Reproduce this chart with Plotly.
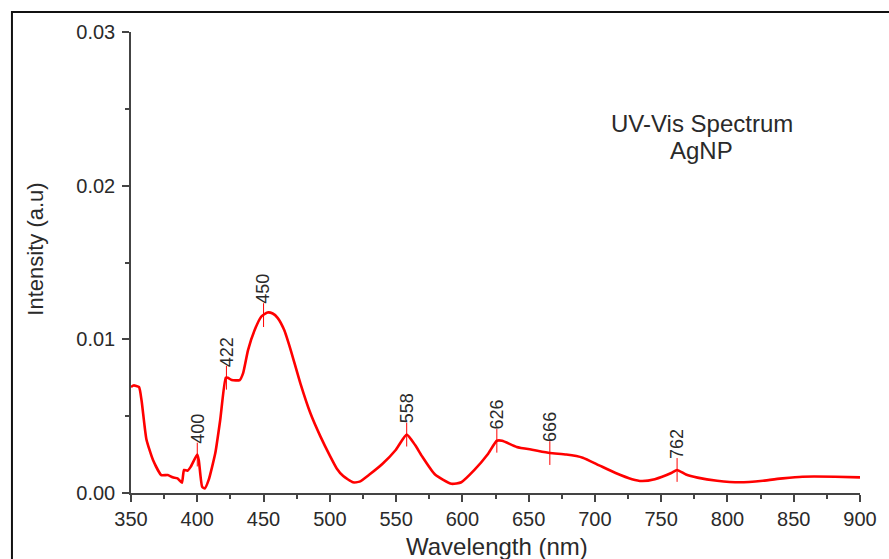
import numpy as np
import plotly.graph_objects as go

wavelength = [350, 352, 356, 358, 361.6, 366.6, 372.8, 377.7, 381.4, 385.1, 388.4, 390, 392.6, 395,
              400, 401.2, 403.7, 405.7, 408.6, 413.6, 417.3, 421.5, 423, 426, 432, 434.6, 438.3,
              443.3, 448.2, 453, 456.9, 460.6, 465.6, 470.5, 477.9, 485.3, 492.8, 500.2, 505.2,
              510.1, 517.5, 522.5, 529.9, 539.8, 549.7, 558, 564.5, 569.5, 579.4, 591.8, 599.2,
              609.1, 619, 626, 630, 641, 653.6, 666, 678.4, 690.8, 703.2, 715.6, 728, 735.3,
              745.2, 757.6, 762, 768.7, 777.4, 792.2, 809.5, 826.8, 841.7, 856.5, 881.3, 900]
intensity = [0.0069, 0.0070, 0.0069, 0.0060, 0.0035, 0.00215, 0.00117, 0.00117, 0.00102, 0.00095,
             0.00067, 0.0015, 0.00145, 0.0017, 0.0025, 0.0021, 0.0004, 0.0003, 0.00085, 0.0026,
             0.00475, 0.0075, 0.0075, 0.00735, 0.00735, 0.0078, 0.0093, 0.0106, 0.01147, 0.01175,
             0.01168, 0.0114, 0.0106, 0.0093, 0.0071, 0.0052, 0.0037, 0.0024, 0.0016, 0.0011,
             0.0007, 0.00074, 0.0012, 0.0019, 0.0028, 0.0038, 0.0031, 0.0024, 0.0012, 0.0006,
             0.0007, 0.0015, 0.0025, 0.0034, 0.0034, 0.0030, 0.0028, 0.0026, 0.0025, 0.0023,
             0.0018, 0.0013, 0.0009, 0.00078, 0.0009, 0.0013, 0.0015, 0.0012, 0.0010, 0.0008,
             0.0007, 0.0008, 0.00095, 0.00106, 0.00106, 0.00102]

peaks = [400, 422, 450, 558, 626, 666, 762]
peak_labels = ["400", "422", "450", "558", "626", "666", "762"]

x_ticks = [350, 400, 450, 500, 550, 600, 650, 700, 750, 800, 850, 900]
y_ticks = [0.00, 0.01, 0.02, 0.03]
y_tick_labels = ["0.00", "0.01", "0.02", "0.03"]

x_title = "Wavelength (nm)"
y_title = "Intensity (a.u)"
title_lines = ["UV-Vis Spectrum", "AgNP"]

FONT = "Liberation Sans, Arial, sans-serif"
TXT = "#2a2a2a"
AX = "#444444"

peak_y = list(np.interp(peaks, wavelength, intensity))

fig = go.Figure()
fig.add_trace(go.Scatter(
    x=wavelength, y=intensity, mode="lines",
    line=dict(color="#ff0000", width=2.6, shape="spline", smoothing=0.5),
    hoverinfo="skip", showlegend=False))
fig.add_trace(go.Scatter(
    x=peaks, y=peak_y, mode="markers",
    marker=dict(symbol="line-ns", size=17, line=dict(color="#ff0000", width=1)),
    hoverinfo="skip", showlegend=False))

for p, py, lab in zip(peaks, peak_y, peak_labels):
    fig.add_annotation(x=p, y=py, text=lab, textangle=-90, showarrow=False,
                       xanchor="center", yanchor="bottom", yshift=9,
                       font=dict(family=FONT, size=18, color=TXT))

fig.add_annotation(xref="paper", yref="paper", x=0.7828, y=0.8026, showarrow=False,
                   text=title_lines[0], xanchor="center", yanchor="middle",
                   font=dict(family=FONT, size=24, color=TXT))
fig.add_annotation(xref="paper", yref="paper", x=0.7828, y=0.744, showarrow=False,
                   text=title_lines[1], xanchor="center", yanchor="middle",
                   font=dict(family=FONT, size=24, color=TXT))

# axis titles
fig.add_annotation(xref="paper", yref="paper", x=0.5026, y=-0.117, showarrow=False,
                   text=x_title, xanchor="center", yanchor="middle",
                   font=dict(family=FONT, size=24, color=TXT))
fig.add_annotation(xref="paper", yref="paper", x=-0.131, y=0.529, showarrow=False,
                   text=y_title, textangle=-90, xanchor="center", yanchor="middle",
                   font=dict(family=FONT, size=22, color=TXT))

# outer frame
fig.add_shape(type="rect", xref="paper", yref="paper",
              x0=-0.1633, y0=-0.2, x1=1.05, y1=1.0434,
              line=dict(color="#111111", width=2), layer="below")

fig.update_layout(
    width=889, height=559,
    margin=dict(l=131, r=17, t=32, b=66),
    paper_bgcolor="white", plot_bgcolor="white",
    font=dict(family=FONT, color=TXT),
    xaxis=dict(range=[350, 900], tickvals=x_ticks, ticks="outside", ticklen=7, tickwidth=1.5,
               tickcolor=AX, showline=True, linecolor=AX, linewidth=1.5,
               showgrid=False, zeroline=False, tickfont=dict(size=20, family=FONT, color=TXT),
               minor=dict(dtick=25, ticks="outside", ticklen=4, tickwidth=1.5, tickcolor=AX)),
    yaxis=dict(range=[0, 0.03], tickvals=y_ticks, ticktext=y_tick_labels, ticks="outside",
               ticklen=7, tickwidth=1.5, tickcolor=AX, showline=True, linecolor=AX,
               linewidth=1.5, showgrid=False, zeroline=False, ticklabelstandoff=3,
               tickfont=dict(size=20, family=FONT, color=TXT),
               minor=dict(tickvals=[0.005, 0.015, 0.025], ticks="outside", ticklen=4,
                          tickwidth=1.5, tickcolor=AX)),
)

fig.write_html("out.html")
